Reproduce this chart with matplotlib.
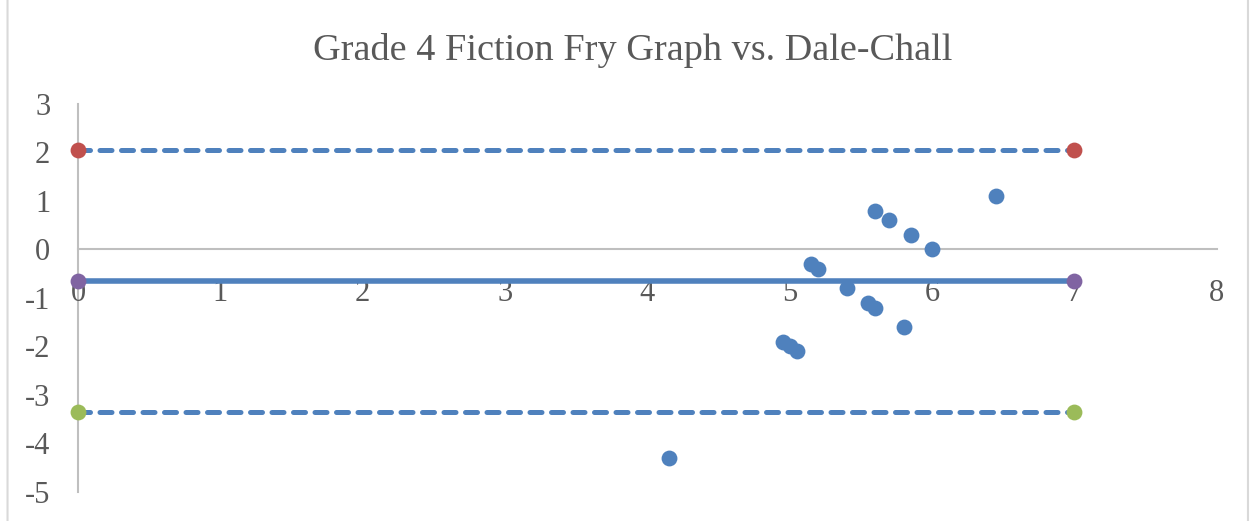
import matplotlib.pyplot as plt
from matplotlib.patches import FancyBboxPatch

# Data
avg_grade = [4.15, 4.95, 5.0, 5.05, 5.15, 5.2, 5.4, 5.55, 5.6, 5.6, 5.7, 5.8, 5.85, 6.0, 6.45]
difference = [-4.3, -1.9, -2.0, -2.1, -0.3, -0.4, -0.8, -1.1, -1.2, 0.8, 0.6, -1.6, 0.3, 0.0, 1.1]

line_x = [0, 7]
upper_limit = [2.05, 2.05]
mean_diff = [-0.65, -0.65]
lower_limit = [-3.35, -3.35]

x_ticks = [0, 1, 2, 3, 4, 5, 6, 7, 8]
y_ticks = [3, 2, 1, 0, -1, -2, -3, -4, -5]

blue = '#4F81BD'
red = '#C0504D'
green = '#9BBB59'
purple = '#8064A2'
text_col = '#595959'

plt.rcParams['font.family'] = ['Liberation Serif', 'DejaVu Serif']
plt.rcParams['axes.unicode_minus'] = False

fig = plt.figure(figsize=(12.53, 5.21), dpi=100)
ax = fig.add_axes([0.0623, 0.0557, 0.9087, 0.7447])

# Outer chart border
fig.patches.append(FancyBboxPatch((0.006, -0.02), 0.99, 1.05, boxstyle='round,pad=0,rounding_size=0.004',
                                  transform=fig.transFigure, fill=False, edgecolor='#D9D9D9', linewidth=1.5))

# Limit lines
ax.plot(line_x, upper_limit, color=blue, linewidth=3.6, linestyle=(0, (2.4, 1.9)),
        dash_capstyle='round', zorder=2)
ax.plot(line_x, lower_limit, color=blue, linewidth=3.6, linestyle=(0, (2.4, 1.9)),
        dash_capstyle='round', zorder=2)
ax.plot(line_x, mean_diff, color=blue, linewidth=4, solid_capstyle='butt', zorder=2)

ax.scatter(line_x, upper_limit, s=130, color=red, zorder=4, linewidths=0, clip_on=False)
ax.scatter(line_x, lower_limit, s=130, color=green, zorder=4, linewidths=0, clip_on=False)
ax.scatter(line_x, mean_diff, s=130, color=purple, zorder=4, linewidths=0, clip_on=False)

ax.scatter(avg_grade, difference, s=130, color=blue, zorder=3, linewidths=0, clip_on=False)

ax.set_xlim(0, 8)
ax.set_ylim(-5, 3)
ax.set_xticks(x_ticks)
ax.set_yticks(y_ticks)

for side in ['top', 'right']:
    ax.spines[side].set_visible(False)
ax.spines['bottom'].set_position(('data', 0))
for side in ['bottom', 'left']:
    ax.spines[side].set_color('#BFBFBF')
    ax.spines[side].set_linewidth(1.5)
    ax.spines[side].set_zorder(1)

ax.tick_params(axis='x', length=0, pad=21, labelsize=22, labelcolor=text_col)
ax.tick_params(axis='y', length=0, pad=20, labelsize=22, labelcolor=text_col)
for lbl in ax.get_xticklabels():
    lbl.set_zorder(5)

fig.suptitle('Grade 4 Fiction Fry Graph vs. Dale-Chall', x=0.505, y=0.937,
             fontsize=27.5, color=text_col)

fig.savefig('out.png', dpi=100)
